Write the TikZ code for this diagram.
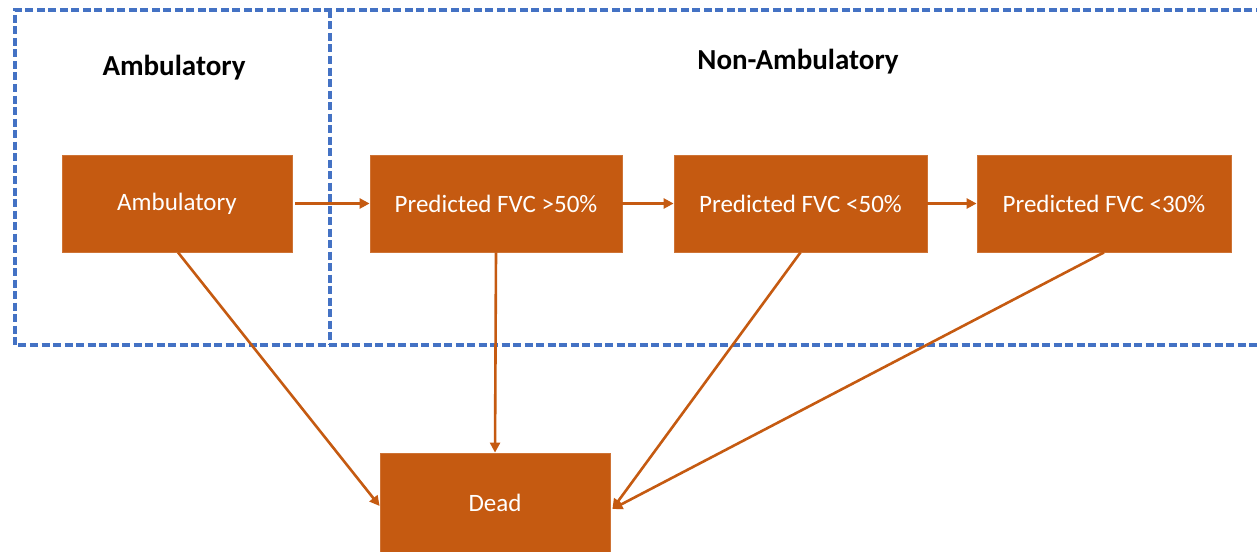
\documentclass[tikz,border=0pt]{standalone}
\usepackage{fontspec}
\setmainfont{Carlito}
\usetikzlibrary{arrows.meta}
\definecolor{boxorange}{HTML}{C55A11}
\definecolor{frameblue}{HTML}{4472C4}
\tikzset{
  statebox/.style={draw=boxorange!85!white, line width=0.8pt, fill=boxorange, text=white, font=\fontsize{25}{30}\selectfont, inner sep=0pt},
  flow/.style={draw=boxorange, line width=2.6pt, -{Triangle[length=10pt,width=10pt]}},
  frame/.style={draw=frameblue, line width=3.8pt, dash pattern=on 8pt off 3.5pt},
  grouptitle/.style={font=\bfseries\fontsize{29}{34}\selectfont, text=black}
}
\begin{document}
\begin{tikzpicture}[x=1pt,y=-1pt]
\useasboundingbox (0,0) rectangle (1257,551);
\clip (0,0) rectangle (1257,551);
% frames
\draw[frame] (1275,10) -- (15,10) -- (15,345) -- (1275,345);
\draw[frame] (330,10) -- (330,345);
% titles
\node[grouptitle] (tamb) at (174,68) {Ambulatory};
\node[grouptitle] (tnon) at (798,62) {Non-Ambulatory};
% boxes
\node[statebox, minimum width=230pt, minimum height=97pt] (amb) at (177,203.5) {Ambulatory};
\node[statebox, minimum width=252pt, minimum height=97pt] (f50) at (496,203.5) {Predicted FVC >50\%};
\node[statebox, minimum width=253pt, minimum height=97pt] (l50) at (800.5,203.5) {Predicted FVC <50\%};
\node[statebox, minimum width=254pt, minimum height=97pt] (l30) at (1104,203.5) {Predicted FVC <30\%};
\node[statebox, minimum width=230pt, minimum height=100pt] (dead) at (495,503) {Dead};
% connectors
\draw[flow] ([xshift=3pt]amb.east) -- (f50.west);
\draw[flow] (f50.east) -- (l50.west);
\draw[flow] (l50.east) -- (l30.west);
\draw[flow] ([xshift=1pt]amb.south) -- ([yshift=-3pt]dead.west);
\draw[flow] (f50.south) -- (dead.north);
\draw[flow] (l50.south) -- ([xshift=2pt,yshift=-6pt]dead.east);
\draw[flow] (l30.south) -- ([xshift=2pt,yshift=-6pt]dead.east);
\end{tikzpicture}
\end{document}
